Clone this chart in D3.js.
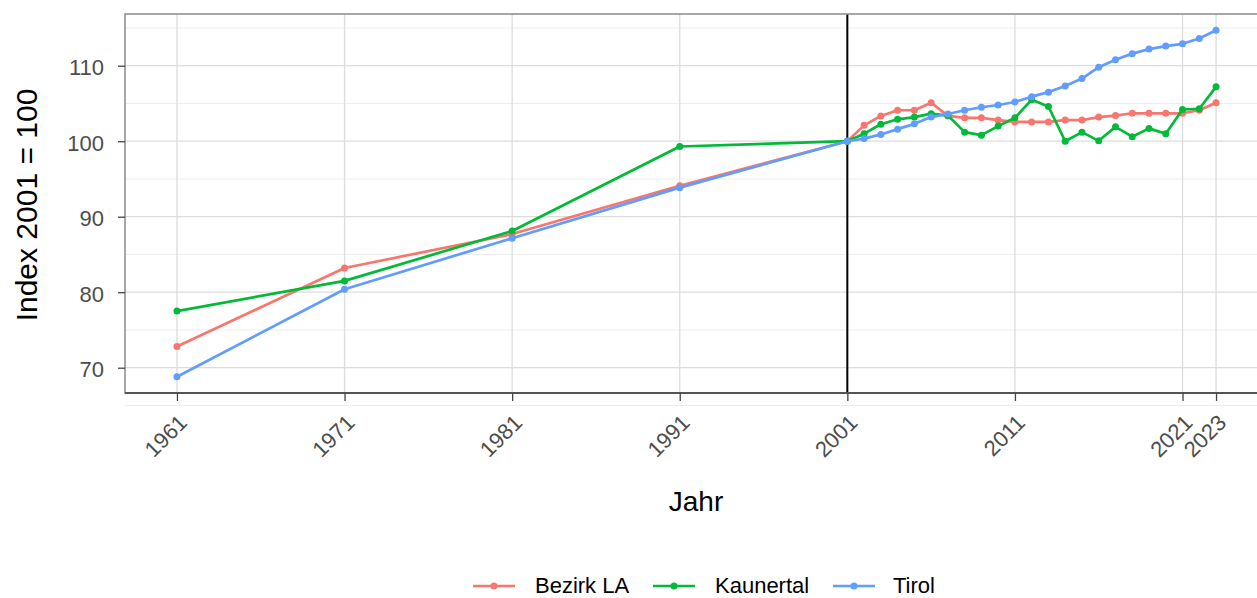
<!DOCTYPE html>
<html><head><meta charset="utf-8">
<script src="https://cdn.jsdelivr.net/npm/d3@7"></script>
<style>body{margin:0;background:#fff;font-family:Arial,"Liberation Sans",sans-serif;}</style>
</head><body>
<svg id="c" width="1257" height="598"></svg>
<script>
const years = [1961,1971,1981,1991,2001,2002,2003,2004,2005,2006,2007,2008,2009,2010,2011,2012,2013,2014,2015,2016,2017,2018,2019,2020,2021,2022,2023];
const bezirkLA = [72.8,83.2,87.7,94.1,100,102.1,103.35,104.1,104.1,105.1,103.35,103.1,103.1,102.8,102.55,102.55,102.55,102.8,102.8,103.2,103.4,103.7,103.7,103.7,103.7,104.1,105.1];
const kaunertal = [77.5,81.5,88.1,99.3,100,101.0,102.25,102.9,103.2,103.65,103.4,101.2,100.8,102.0,103.1,105.5,104.6,100.0,101.2,100.05,101.9,100.6,101.7,101.0,104.2,104.3,107.2];
const tirol = [68.8,80.4,87.15,93.85,100,100.35,100.9,101.6,102.3,103.2,103.6,104.1,104.5,104.8,105.2,105.9,106.5,107.3,108.3,109.8,110.8,111.6,112.2,112.6,112.9,113.6,114.7];
const seriesNames = ["Bezirk LA","Kaunertal","Tirol"];
const seriesColors = ["#F8766D","#00BA38","#619CFF"];
const xTicks = [1961,1971,1981,1991,2001,2011,2021,2023];
const yTicks = [70,80,90,100,110];
const yMinor = [65,75,85,95,105,115];
const refYear = 2001;

const FONT = "Arial, 'Liberation Sans', sans-serif";
const svg = d3.select("#c").style("font-family", FONT);
const L = 125, R = 1268, T = 14, B = 393;
const x = d3.scaleLinear().domain([1957.9, 2026.1]).range([L, R]);
const y = d3.scaleLinear().domain([66.65, 116.85]).range([B, T]);

const g = svg.append("g");
g.selectAll(".ym").data(yMinor).join("line").attr("x1",L).attr("x2",R)
 .attr("y1",d=>y(d)).attr("y2",d=>y(d)).attr("stroke","#ededed").attr("stroke-width",1);
g.selectAll(".yM").data(yTicks).join("line").attr("x1",L).attr("x2",R)
 .attr("y1",d=>y(d)).attr("y2",d=>y(d)).attr("stroke","#dcdcdc").attr("stroke-width",1.3);
g.selectAll(".xM").data(xTicks).join("line").attr("y1",T).attr("y2",B)
 .attr("x1",d=>x(d)).attr("x2",d=>x(d)).attr("stroke","#dcdcdc").attr("stroke-width",1.3);

g.append("line").attr("x1",x(refYear)).attr("x2",x(refYear)).attr("y1",T).attr("y2",B)
 .attr("stroke","#000").attr("stroke-width",2);

const data = [bezirkLA,kaunertal,tirol];
const line = d3.line().x((d,i)=>x(years[i])).y(d=>y(d));
data.forEach((s,k)=>{
  g.append("path").datum(s).attr("d",line).attr("fill","none")
   .attr("stroke",seriesColors[k]).attr("stroke-width",2.7).attr("stroke-linejoin","round");
  g.selectAll(".p"+k).data(s).join("circle").attr("cx",(d,i)=>x(years[i])).attr("cy",d=>y(d))
   .attr("r",3.5).attr("fill",seriesColors[k]);
});

g.append("rect").attr("x",L).attr("y",T).attr("width",R-L).attr("height",B-T)
 .attr("fill","none").attr("stroke","#8a8a8a").attr("stroke-width",1.5);
g.append("line").attr("x1",L).attr("x2",R).attr("y1",B).attr("y2",B).attr("stroke","#555").attr("stroke-width",2.2);

const xa = svg.append("g").attr("transform",`translate(0,${B})`)
 .call(d3.axisBottom(x).tickValues(xTicks).tickFormat(d3.format("d")).tickSize(8));
xa.select(".domain").remove();
xa.selectAll("line").attr("stroke","#444").attr("stroke-width",1.3);
xa.selectAll("text").attr("fill","#4d4d4d").style("font-size","22px").style("font-family",FONT)
 .attr("text-anchor","end").attr("x",0).attr("y",0).attr("dy",0)
 .attr("transform","translate(11,31) rotate(-45)");

const ya = svg.append("g").attr("transform",`translate(${L},0)`)
 .call(d3.axisLeft(y).tickValues(yTicks).tickSize(7));
ya.select(".domain").remove();
ya.selectAll("line").attr("stroke","#444").attr("stroke-width",1.3);
ya.selectAll("text").attr("fill","#4d4d4d").style("font-size","22px").style("font-family",FONT)
 .attr("x",-21).attr("dy","0.42em");

svg.append("text").attr("x",696).attr("y",511).attr("text-anchor","middle")
 .style("font-size","28px").attr("fill","#000").text("Jahr");
svg.append("text").attr("transform",`translate(37,205) rotate(-90)`).attr("text-anchor","middle")
 .style("font-size","30px").attr("fill","#000").text("Index 2001 = 100");

const legX = [473, 653, 833];
const legTX = [535, 715, 893];
seriesNames.forEach((n,k)=>{
  const lg = svg.append("g").attr("transform",`translate(${legX[k]},586)`);
  lg.append("line").attr("x1",0).attr("x2",42).attr("y1",0).attr("y2",0).attr("stroke",seriesColors[k]).attr("stroke-width",2.7);
  lg.append("circle").attr("cx",21).attr("cy",0).attr("r",3.5).attr("fill",seriesColors[k]);
  svg.append("text").attr("x",legTX[k]).attr("y",593).style("font-size","22px").attr("fill","#000").text(n);
});
</script>
</body></html>
